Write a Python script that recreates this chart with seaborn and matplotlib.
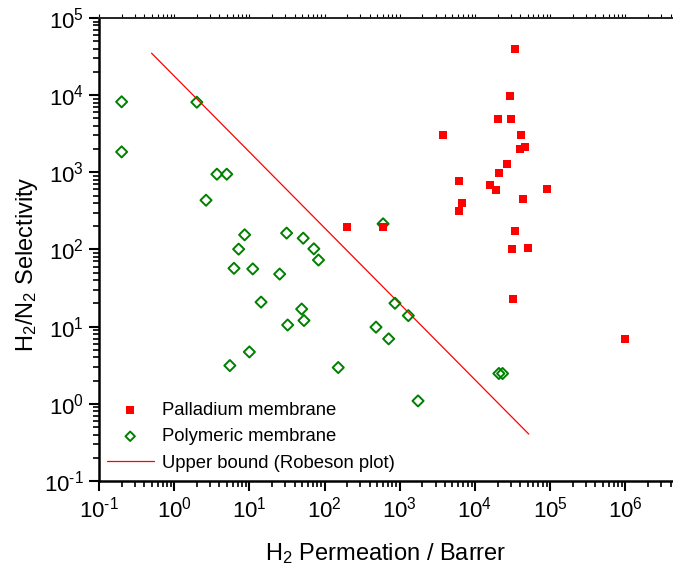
import matplotlib
matplotlib.use("Agg")
import matplotlib.pyplot as plt
import matplotlib.ticker as mticker
import numpy as np
import pandas as pd
import seaborn as sns

# H2 permeation (Barrer) and H2/N2 selectivity
pd_perm = [3.4e4, 2.9e4, 2.0e4, 3.0e4, 3.8e3, 4.1e4, 4.0e4, 4.7e4, 2.7e4, 2.07e4,
           6.2e3, 1.6e4, 1.9e4, 9.1e4, 4.3e4, 6.7e3, 6.2e3, 200, 604, 3.37e4,
           3.1e4, 5.1e4, 3.2e4, 1.0e6]
pd_sel = [4.0e4, 9.8e3, 4.9e3, 4.9e3, 3.0e3, 3.0e3, 2.0e3, 2.1e3, 1.3e3, 990,
          774, 693, 597, 600, 448, 398, 316, 198, 198, 171,
          100, 105, 22.7, 7.0]

poly_perm = [0.2, 0.2, 2.0, 3.7, 5.0, 2.65, 8.65, 7.2, 6.24, 11.1,
             25.3, 31.3, 52, 72, 83, 14.3, 49.6, 32.3, 53.2, 10,
             5.5, 152, 863, 1.3e3, 483, 712, 2.08e4, 2.33e4, 1.75e3, 600]
poly_sel = [8.2e3, 1.84e3, 8.1e3, 945, 945, 435, 155, 101, 57, 56,
            48, 163, 140, 102, 73, 20.8, 16.9, 10.5, 12, 4.7,
            3.13, 2.95, 20.1, 13.9, 9.85, 6.95, 2.47, 2.47, 1.09, 215]

# Robeson upper bound, drawn between its two end points
bound_perm = [0.5, 5.2e4]
bound_sel = [3.5e4, 0.405]

sns.set_style("ticks")
plt.rcParams["font.family"] = ["Liberation Sans", "DejaVu Sans"]
plt.rcParams["mathtext.fontset"] = "custom"
plt.rcParams["mathtext.rm"] = "Liberation Sans"
plt.rcParams["mathtext.it"] = "Liberation Sans:italic"
plt.rcParams["mathtext.bf"] = "Liberation Sans:bold"
plt.rcParams["axes.unicode_minus"] = False
for key in ("text.color", "axes.labelcolor", "xtick.color", "ytick.color",
            "xtick.labelcolor", "ytick.labelcolor"):
    plt.rcParams[key] = "black"


def decade_label(value, pos):
    """Power-of-ten label with a plain hyphen for negative exponents."""
    exp = int(round(np.log10(value)))
    return "$\\mathdefault{10^{\\text{%d}}}$" % exp


fig = plt.figure(figsize=(6.73, 5.69), dpi=100)
ax = fig.add_axes([0.1471, 0.1547, 0.8529, 0.8137])

df_pd = pd.DataFrame({"perm": pd_perm, "sel": pd_sel})
df_poly = pd.DataFrame({"perm": poly_perm, "sel": poly_sel})
df_bound = pd.DataFrame({"perm": bound_perm, "sel": bound_sel})

sns.scatterplot(data=df_pd, x="perm", y="sel", ax=ax, marker="s", s=38,
                color="#ff0000", linewidth=0, label="Palladium membrane", zorder=3)
sns.scatterplot(data=df_poly, x="perm", y="sel", ax=ax, marker="D", s=32,
                color="#008000", linewidth=1.4, label="Polymeric membrane", zorder=2)
poly_pts = ax.collections[-1]
poly_pts.set_facecolor("none")
poly_pts.set_edgecolor("#008000")
sns.lineplot(data=df_bound, x="perm", y="sel", ax=ax, color="#ff0000",
             linewidth=0.9, label="Upper bound (Robeson plot)", zorder=1)

ax.set_xscale("log")
ax.set_yscale("log")
ax.set_xlim(1e-1, 10 ** 6.634)
ax.set_ylim(1e-1, 1e5)

ax.xaxis.set_major_locator(mticker.LogLocator(base=10, numticks=20))
ax.yaxis.set_major_locator(mticker.LogLocator(base=10, numticks=20))
ax.xaxis.set_minor_locator(mticker.LogLocator(base=10, subs=np.arange(2, 10), numticks=20))
ax.yaxis.set_minor_locator(mticker.LogLocator(base=10, subs=np.arange(2, 10), numticks=20))
ax.xaxis.set_major_formatter(mticker.FuncFormatter(decade_label))
ax.yaxis.set_major_formatter(mticker.FuncFormatter(decade_label))
ax.xaxis.set_minor_formatter(mticker.NullFormatter())
ax.yaxis.set_minor_formatter(mticker.NullFormatter())

for side in ("left", "bottom"):
    ax.spines[side].set_linewidth(1.8)
    ax.spines[side].set_color("black")
ax.spines["top"].set_visible(True)
ax.spines["top"].set_linewidth(1.4)
ax.spines["top"].set_color("#222222")
ax.spines["right"].set_visible(False)

ax.tick_params(axis="both", which="major", direction="out", length=7, width=1.5,
               labelsize=16, color="black", pad=4)
ax.tick_params(axis="both", which="minor", direction="out", length=4, width=1.2,
               color="black")
ax.xaxis.set_tick_params(which="both", top=True)
for t in ax.xaxis.get_major_ticks() + ax.xaxis.get_minor_ticks():
    t.tick2line.set_markersize(3)
    t.tick2line.set_markeredgewidth(0.8)
    t.tick2line.set_color("#444444")

ax.set_xlabel("H$_2$ Permeation / Barrer", fontsize=17, labelpad=14)
ax.set_ylabel("H$_2$/N$_2$ Selectivity", fontsize=17, labelpad=2.5)
ax.yaxis.label.set_y(0.468)

handles, labels = ax.get_legend_handles_labels()
ax.legend(handles, labels, loc="lower left", bbox_to_anchor=(-0.006, -0.004),
          frameon=False, fontsize=13.3, handlelength=2.55, handletextpad=0.43,
          labelspacing=0.52, borderaxespad=0.2, markerscale=0.85)

fig.savefig("out.png", dpi=100)
